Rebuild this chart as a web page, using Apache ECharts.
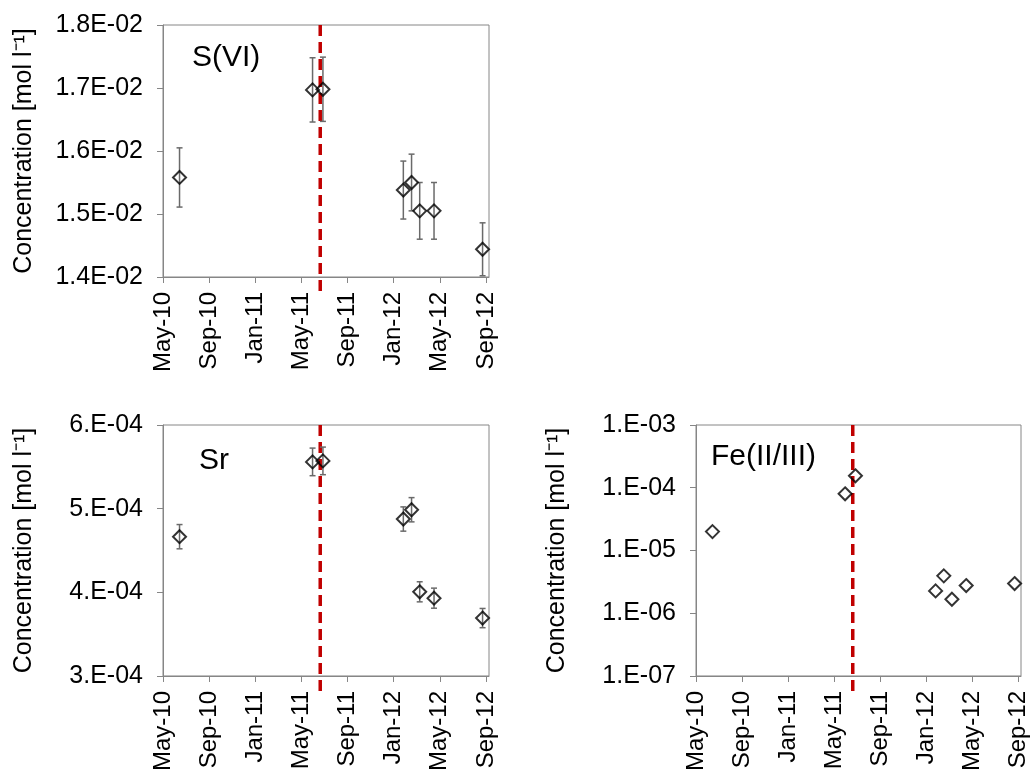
<!DOCTYPE html>
<html>
<head>
<meta charset="utf-8">
<script src="https://cdn.jsdelivr.net/npm/echarts@6/dist/echarts.min.js"></script>
<style>
  html, body { margin: 0; padding: 0; background: #fff; }
  #main { width: 1030px; height: 774px; }
</style>
</head>
<body>
<div id="main"></div>
<script>
// sampling dates (shared by all three panels)
var dates = ['2010-06-14', '2011-05-31', '2011-06-27', '2012-01-27', '2012-02-17', '2012-03-09', '2012-04-16', '2012-08-23']
var eventDate = '2011-06-20'

var tickDates = ['2010-05-01', '2010-09-01', '2011-01-01', '2011-05-01', '2011-09-01', '2012-01-01', '2012-05-01', '2012-09-01']
var tickLabels = ['May-10', 'Sep-10', 'Jan-11', 'May-11', 'Sep-11', 'Jan-12', 'May-12', 'Sep-12']
var xStart = '2010-05-01'
var xEnd = '2012-09-09'

// S(VI)
var sValues = [0.01558, 0.01697, 0.01698, 0.01538, 0.01550, 0.01505, 0.01505, 0.01444]
var sErrors = [0.00047, 0.00051, 0.00051, 0.00046, 0.00045, 0.00045, 0.00045, 0.00042]
// Sr
var srValues = [4.665e-4, 5.559e-4, 5.571e-4, 4.876e-4, 4.987e-4, 4.006e-4, 3.930e-4, 3.692e-4]
var srErrors = [0.145e-4, 0.165e-4, 0.165e-4, 0.145e-4, 0.145e-4, 0.12e-4, 0.12e-4, 0.115e-4]
// Fe(II/III)
var feValues = [2.0e-5, 8.0e-5, 1.55e-4, 2.27e-6, 3.94e-6, 1.67e-6, 2.76e-6, 2.97e-6]

var yTitle = 'Concentration [mol l\u207B\u00B9]'
var FONT = '"Liberation Sans", Arial, sans-serif'

// months since May 2010 (fractional), used as the x value
function monthIndex (s) {
  var p = s.split('-').map(Number)
  var dim = new Date(p[0], p[1], 0).getDate()
  return (p[0] - 2010) * 12 + (p[1] - 5) + (p[2] - 1) / dim
}

var xs = dates.map(monthIndex)
var tickPos = tickDates.map(monthIndex)

function sci (digits, dot) {
  return function (v) {
    var s = Number(v).toExponential(digits).split('e')
    var exp = Number(s[1])
    var e = (exp < 0 ? '-' : '+') + String(Math.abs(exp)).padStart(2, '0')
    return s[0] + (dot ? '.' : '') + 'E' + e
  }
}

var axisGray = '#868686'

function xAxisFor (gi) {
  return {
    type: 'value', gridIndex: gi, min: monthIndex(xStart), max: monthIndex(xEnd),
    splitLine: { show: false },
    axisLine: { lineStyle: { color: axisGray } },
    axisTick: { length: 6, lineStyle: { color: axisGray }, customValues: tickPos },
    axisLabel: {
      rotate: 90, margin: 15, fontSize: 24, color: '#000', fontFamily: FONT,
      customValues: tickPos,
      formatter: function (v) {
        var i = tickPos.findIndex(function (t) { return Math.abs(t - v) < 1e-6 })
        return i >= 0 ? tickLabels[i] : ''
      }
    }
  }
}

function yLabel (fmt) {
  return { fontSize: 25, color: '#000', margin: 20, fontFamily: FONT, formatter: fmt }
}

function yAxisFor (gi, extra) {
  return Object.assign({
    gridIndex: gi,
    name: yTitle, nameLocation: 'middle', nameGap: 126,
    nameTextStyle: { fontSize: 25, color: '#000', fontFamily: FONT },
    splitLine: { show: false },
    axisLine: { show: true, lineStyle: { color: axisGray } },
    axisTick: { show: true, length: 6, lineStyle: { color: axisGray } }
  }, extra)
}

function points (gi, values) {
  return {
    type: 'scatter', xAxisIndex: gi, yAxisIndex: gi, z: 5,
    symbol: 'diamond', symbolSize: 13,
    itemStyle: { color: 'rgba(0,0,0,0)', borderColor: '#000', borderWidth: 2 },
    data: values.map(function (v, i) { return [xs[i], v] })
  }
}

function errorBars (gi, values, errs) {
  return {
    type: 'custom', xAxisIndex: gi, yAxisIndex: gi, z: 4,
    renderItem: function (params, api) {
      var top = api.coord([api.value(0), api.value(2)])
      var bot = api.coord([api.value(0), api.value(1)])
      var hw = 3
      var st = { stroke: '#6a6a6a', lineWidth: 1.5 }
      return {
        type: 'group',
        children: [
          { type: 'line', shape: { x1: top[0], y1: top[1], x2: bot[0], y2: bot[1] }, style: st },
          { type: 'line', shape: { x1: top[0] - hw, y1: top[1], x2: top[0] + hw, y2: top[1] }, style: st },
          { type: 'line', shape: { x1: bot[0] - hw, y1: bot[1], x2: bot[0] + hw, y2: bot[1] }, style: st }
        ]
      }
    },
    encode: { x: 0, y: [1, 2] },
    data: values.map(function (v, i) { return [xs[i], v - errs[i], v + errs[i]] })
  }
}

// red dashed marker line, runs a bit below the x axis like in the original
function eventLine (gi, yMin, yMax) {
  return {
    type: 'custom', xAxisIndex: gi, yAxisIndex: gi, z: 3, clip: false,
    renderItem: function (params, api) {
      var top = api.coord([api.value(0), yMax])
      var bot = api.coord([api.value(0), yMin])
      return {
        type: 'line',
        shape: { x1: top[0], y1: top[1], x2: bot[0], y2: bot[1] + 18 },
        style: { stroke: '#C00000', lineWidth: 3.5, lineDash: [11, 6] }
      }
    },
    encode: { x: 0 },
    data: [[monthIndex(eventDate)]]
  }
}

function panelTitle (text, left, top) {
  return { text: text, left: left, top: top, padding: 0, textStyle: { fontSize: 30, fontWeight: 'normal', color: '#000', fontFamily: FONT } }
}

var gridStyle = { show: true, borderColor: axisGray, borderWidth: 1, containLabel: false }

var option = {
  backgroundColor: '#fff',
  animation: false,
  title: [
    panelTitle('S(VI)', 192, 43),
    panelTitle('Sr', 199, 446),
    panelTitle('Fe(II/III)', 711, 442)
  ],
  grid: [
    Object.assign({ left: 163, top: 25, width: 326, height: 252 }, gridStyle),
    Object.assign({ left: 163, top: 425, width: 326, height: 252 }, gridStyle),
    Object.assign({ left: 696, top: 425, width: 325, height: 252 }, gridStyle)
  ],
  xAxis: [xAxisFor(0), xAxisFor(1), xAxisFor(2)],
  yAxis: [
    yAxisFor(0, { type: 'value', min: 0.014, max: 0.018, interval: 0.001, axisLabel: yLabel(sci(1, false)) }),
    yAxisFor(1, { type: 'value', min: 3e-4, max: 6e-4, interval: 1e-4, axisLabel: yLabel(sci(0, true)) }),
    yAxisFor(2, { type: 'log', logBase: 10, min: 1e-7, max: 1e-3, axisLabel: yLabel(sci(0, true)) })
  ],
  series: [
    eventLine(0, 0.014, 0.018),
    errorBars(0, sValues, sErrors),
    points(0, sValues),
    eventLine(1, 3e-4, 6e-4),
    errorBars(1, srValues, srErrors),
    points(1, srValues),
    eventLine(2, 1e-7, 1e-3),
    points(2, feValues)
  ]
}

var chart = echarts.init(document.getElementById('main'), null, { renderer: 'canvas' })
chart.setOption(option)
</script>
</body>
</html>
